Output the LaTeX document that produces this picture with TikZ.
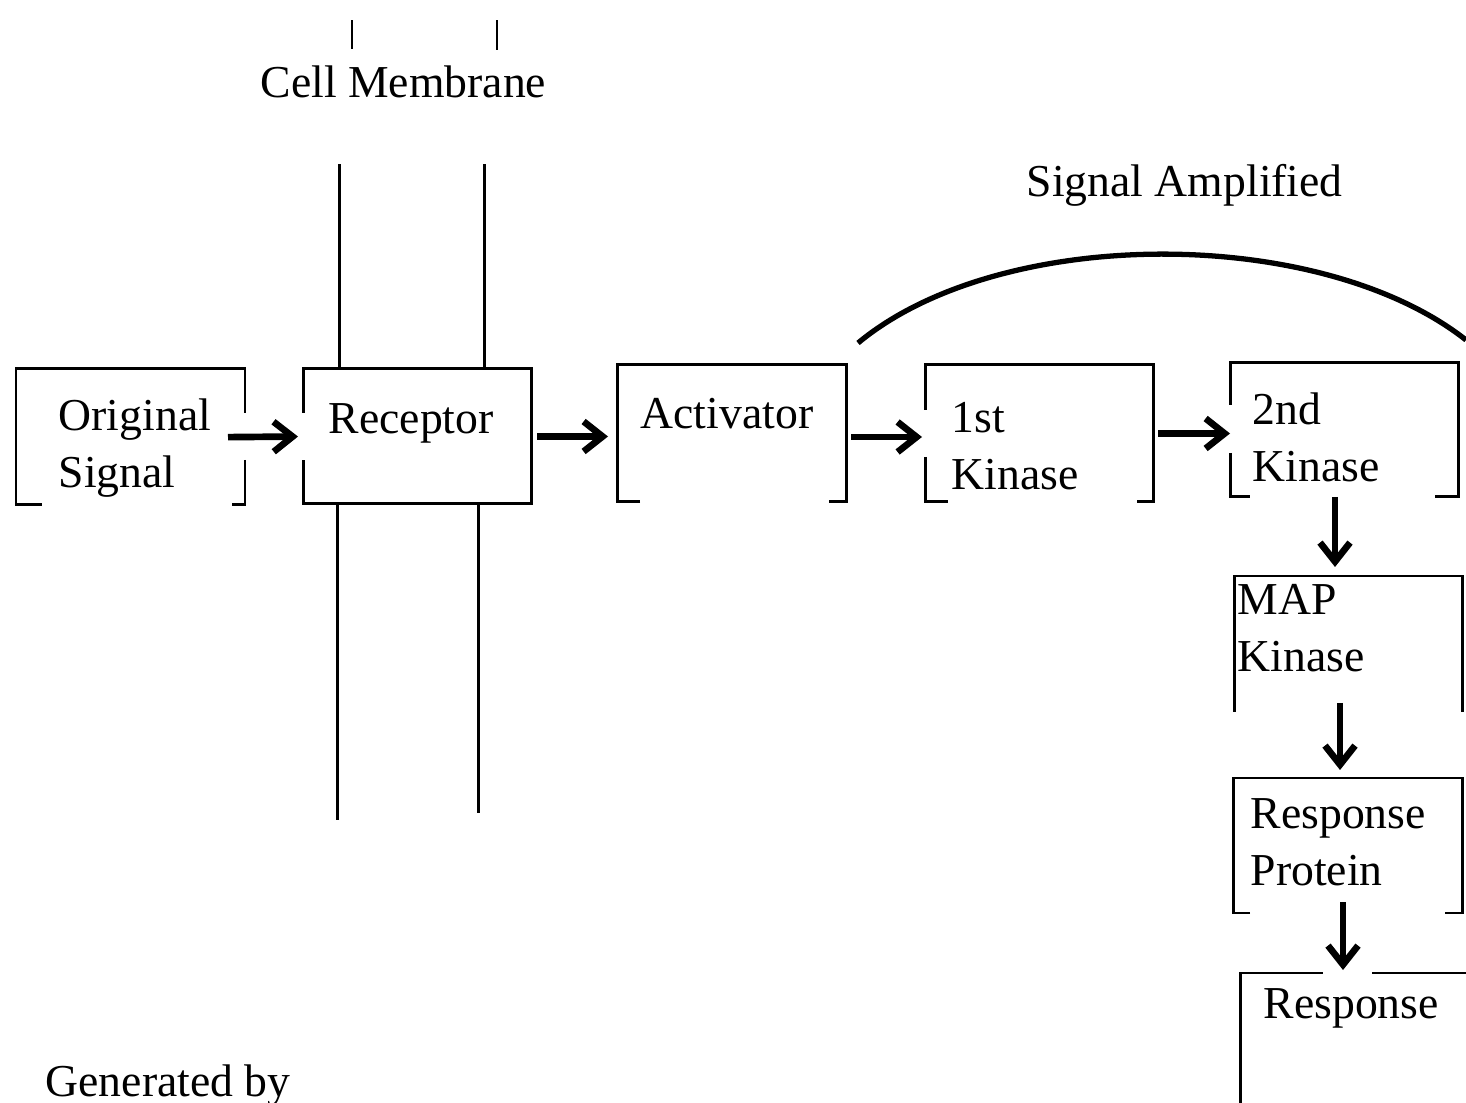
\documentclass[tikz,border=0pt]{standalone}
\usepackage{fontspec}
\setmainfont{Liberation Serif}
\usetikzlibrary{arrows.meta}
\tikzstyle{boxarea} = [rectangle, inner sep=0, outer sep=0]
\tikzstyle{boxtext} = [anchor=north west, inner sep=0, align=left, font=\fontsize{13}{16.2}\selectfont]
\tikzstyle{boxline} = [line width=0.85pt]
\tikzstyle{flow} = [line width=1.9pt, -{Straight Barb[length=1.9mm, width=3mm]}]
\tikzstyle{ampline} = [line width=1.5pt]

\begin{document}
\begin{tikzpicture}[x=0.1mm, y=-0.1mm]
    \useasboundingbox (0,0) rectangle (1466,1103);
    \clip (0,0) rectangle (1466,1103);
    % boxes
    \node (sig) at (130.5,437) [boxarea, minimum width=22.9mm, minimum height=13.6mm] {};
    \node (rec) at (417,436.5) [boxarea, minimum width=22.8mm, minimum height=13.5mm] {};
    \node (act) at (731.5,433.5) [boxarea, minimum width=22.9mm, minimum height=13.7mm] {};
    \node (k1) at (1039,433.5) [boxarea, minimum width=22.8mm, minimum height=13.7mm] {};
    \node (k2) at (1344,430) [boxarea, minimum width=22.8mm, minimum height=13.4mm] {};
    \node (map) at (1348,644) [boxarea, minimum width=22.8mm, minimum height=13.6mm] {};
    \node (rp) at (1347.5,845.5) [boxarea, minimum width=22.9mm, minimum height=13.5mm] {};
    \node (resp) at (1355,1041.5) [boxarea, minimum width=23mm, minimum height=13.7mm] {};

    \node (sigT) at ([shift={(42,29)}]sig.north west) [boxtext] {Original\\Signal};
    \node (recT) at ([shift={(25,34)}]rec.north west) [boxtext] {Receptor};
    \node (actT) at ([shift={(23,33)}]act.north west) [boxtext] {Activator};
    \node (k1T) at ([shift={(26,37)}]k1.north west) [boxtext] {1st\\Kinase};
    \node (k2T) at ([shift={(22,29)}]k2.north west) [boxtext] {2nd\\Kinase};
    \node (mapT) at ([shift={(3,8)}]map.north west) [boxtext] {MAP\\Kinase};
    \node (rpT) at ([shift={(17,20)}]rp.north west) [boxtext] {Response\\Protein};
    \node (respT) at ([shift={(23,15)}]resp.north west) [boxtext] {Response};

    \node (memb) at (260,65) [boxtext] {Cell Membrane};
    \node (amp) at (1026,164) [boxtext] {Signal Amplified};
    \node (gen) at (45,1064) [boxtext] {Generated by};

    % box outlines
    \draw[boxline] (sig.north east) ++(0,44) -- (sig.north east) -- (sig.north west) -- (sig.south west) -- ++(26,0);
    \draw[boxline] (sig.south east) ++(0,-45) -- (sig.south east) -- ++(-13,0);
    \draw[boxline] (rec.north west) ++(0,44) -- (rec.north west) -- (rec.north east) -- (rec.south east) -- (rec.south west) -- ++(0,-44);
    \draw[boxline] (act.south west) ++(23,0) -- (act.south west) -- (act.north west) -- (act.north east) -- (act.south east) -- ++(-17,0);
    \draw[boxline] (k1.north west) ++(0,45) -- (k1.north west) -- (k1.north east) -- (k1.south east) -- ++(-16,0);
    \draw[boxline] (k1.south west) ++(0,-45) -- (k1.south west) -- ++(23,0);
    \draw[boxline] (k2.north west) ++(0,42) -- (k2.north west) -- (k2.north east) -- (k2.south east) -- ++(-23,0);
    \draw[boxline] (k2.south west) ++(0,-44) -- (k2.south west) -- ++(20,0);
    \draw[boxline] (map.south west) -- (map.north west) -- (map.north east) -- (map.south east);
    \draw[boxline] (rp.south west) ++(17,0) -- (rp.south west) -- (rp.north west) -- (rp.north east) -- (rp.south east) -- ++(-17,0);
    \draw[boxline] (resp.south west) -- (resp.north west) -- ++(83,0);
    \draw[boxline] (resp.north west) ++(132,0) -- (resp.north east);

    % membrane
    \draw[boxline] (rec.north west) ++(36,0) -- ++(0,-205);
    \draw[boxline] (rec.north west) ++(181,0) -- ++(0,-205);
    \draw[boxline] (rec.south west) ++(34,0) -- ++(0,316);
    \draw[boxline] (rec.south west) ++(175,0) -- ++(0,309);
    \draw[line width=0.6pt] ([shift={(92,-16)}]memb.north west) -- ++(0,-29);
    \draw[line width=0.6pt] ([shift={(237,-15)}]memb.north west) -- ++(0,-30);

    % signal path
    \draw[flow, shorten <=-1.7mm, shorten >=0.5mm] (sig.east) -- (rec.west);
    \draw[flow, shorten <=0.6mm, shorten >=0.9mm] (rec.east) -- (rec.east -| act.west);
    \draw[flow, shorten <=0.5mm, shorten >=0.3mm] ([yshift=-0.35mm]act.east) -- ([yshift=-0.35mm]act.east -| k1.west);
    \draw[flow, shorten <=0.5mm] (k1.east) -- (k1.east -| k2.west);
    \draw[flow, shorten >=0.9mm] ([xshift=-0.9mm]k2.south) -- ([xshift=-0.9mm]k2.south |- map.north);
    \draw[flow, shorten <=-0.9mm, shorten >=0.8mm] ([xshift=-0.8mm]map.south) -- ([xshift=-0.8mm]map.south |- rp.north);
    \draw[flow, shorten <=-1.1mm, shorten >=0.3mm] ([xshift=-0.45mm]rp.south) -- ([xshift=-0.45mm]rp.south |- resp.north);

    % amplification arc
    \coordinate (ampL) at (858,343);
    \coordinate (ampR) at (1466,340);
    \draw[ampline] (ampL) .. controls (1000,225) and (1320,225) .. (ampR);
\end{tikzpicture}
\end{document}
